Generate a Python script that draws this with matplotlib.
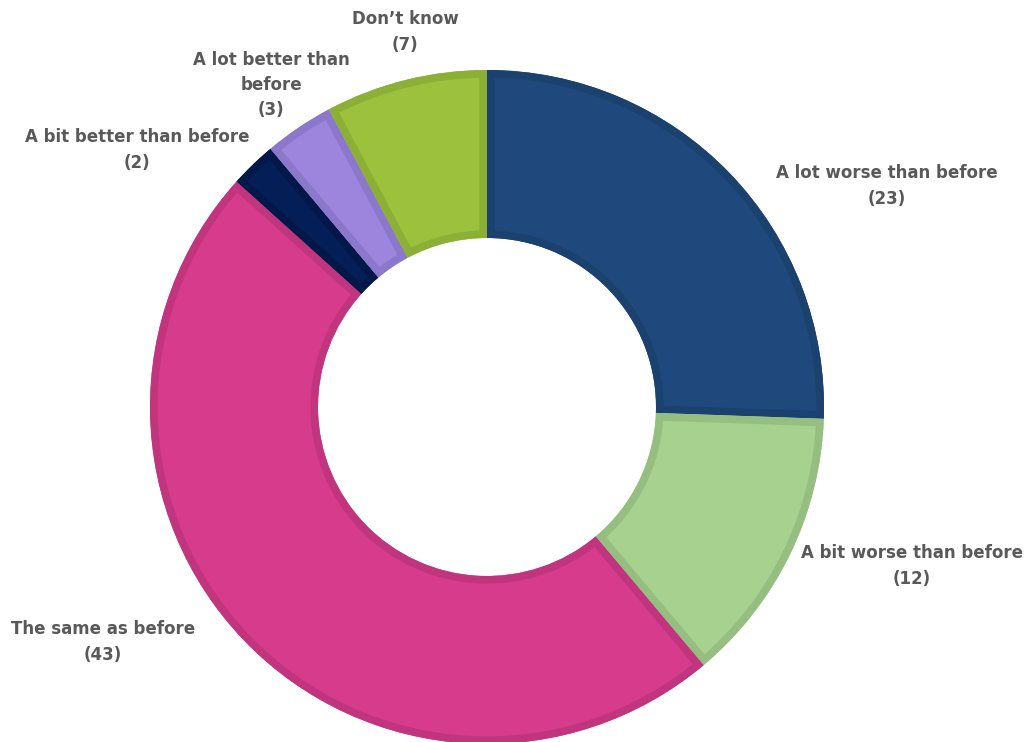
import matplotlib
matplotlib.use("Agg")
import matplotlib.pyplot as plt
from matplotlib.patches import Wedge

# survey answers, clockwise from the top
categories = ["A lot worse than before", "A bit worse than before", "The same as before",
              "A bit better than before", "A lot better than before", "Don\u2019t know"]
counts = [23, 12, 43, 2, 3, 7]
label_text = ["A lot worse than before\n(23)", "A bit worse than before\n(12)",
              "The same as before\n(43)", "A bit better than before\n(2)",
              "A lot better than\nbefore\n(3)", "Don\u2019t know\n(7)"]

fill_colors = ["#1F497D", "#A6D18E", "#D63C8B", "#041E58", "#9D85DE", "#9BC13D"]
edge_colors = ["#1B416F", "#96BE80", "#C1357E", "#031848", "#8C78CB", "#8BB035"]

# label centres in pixel coords (y from top)
label_pos = [(887, 186), (912, 566), (103, 642), (137, 150), (271, 85), (405, 32)]

W, H = 1029, 742
cx, cy = 487, 407
r_out, r_in = 337, 169

fig = plt.figure(figsize=(W / 100, H / 100), dpi=100)
ax = fig.add_axes([0, 0, 1, 1])

wedges, _ = ax.pie(counts, colors=fill_colors, startangle=90, counterclock=False,
                   radius=r_out, center=(cx, H - cy),
                   wedgeprops=dict(width=r_out - r_in, linewidth=0))

# darker inner border on each slice: an outline copy clipped to the slice
for w, ec in zip(wedges, edge_colors):
    border = Wedge(w.center, w.r, w.theta1, w.theta2, width=w.width,
                   facecolor="none", edgecolor=ec, linewidth=11)
    ax.add_patch(border)
    border.set_clip_path(w)

for txt, (x, y) in zip(label_text, label_pos):
    ax.text(x, H - y, txt, ha="center", va="center", fontsize=12, fontweight="bold",
            color="#595959", linespacing=1.5, family="DejaVu Sans")

ax.set_xlim(0, W)
ax.set_ylim(0, H)
ax.set_aspect("equal")
ax.axis("off")

fig.savefig("out.png", dpi=100, facecolor="white")
